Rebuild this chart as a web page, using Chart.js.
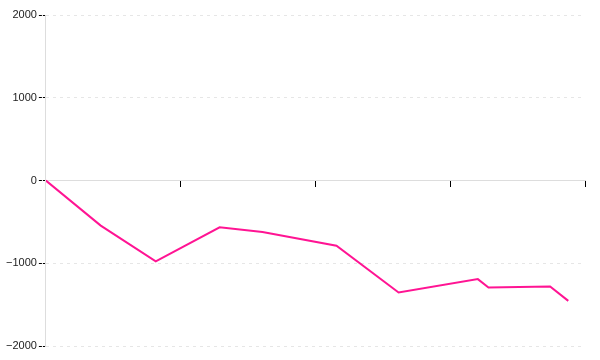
<!DOCTYPE html>
<html>
<head>
<meta charset="utf-8">
<script src="https://cdn.jsdelivr.net/npm/chart.js@4/dist/chart.umd.min.js"></script>
<style>
  html, body { margin: 0; padding: 0; background: #fff; }
  #wrap { width: 600px; height: 360px; }
</style>
</head>
<body>
<div id="wrap"><canvas id="c"></canvas></div>
<script>
const xValues = [0, 0.407, 0.815, 1.289, 1.607, 2.156, 2.617, 3.205, 3.284, 3.741, 3.876];
const yValues = [0, -545, -978, -566, -622, -788, -1354, -1192, -1293, -1281, -1455];
const yTicks = [-2000, -1000, 0, 1000, 2000];
const xTicks = [0, 1, 2, 3, 4];

const points = xValues.map((x, i) => ({ x: x, y: yValues[i] }));

new Chart(document.getElementById('c'), {
  type: 'line',
  data: {
    datasets: [{
      data: points,
      borderColor: '#ff1493',
      borderWidth: 2,
      pointRadius: 0,
      tension: 0,
      fill: false
    }]
  },
  options: {
    responsive: true,
    maintainAspectRatio: false,
    animation: false,
    layout: { padding: { top: 15, right: 15, bottom: 14, left: 4 } },
    plugins: { legend: { display: false }, tooltip: { enabled: false } },
    scales: {
      x: {
        type: 'linear',
        position: { y: 0 },
        min: xTicks[0],
        max: xTicks[xTicks.length - 1],
        afterBuildTicks: (s) => { s.ticks = xTicks.map(v => ({ value: v })); },
        ticks: { display: false },
        grid: {
          drawOnChartArea: false,
          drawTicks: true,
          tickLength: 6,
          tickColor: '#000',
          tickWidth: 1
        },
        border: { display: true, color: '#dddddd', width: 1 }
      },
      y: {
        min: yTicks[0],
        max: yTicks[yTicks.length - 1],
        afterBuildTicks: (s) => { s.ticks = yTicks.map(v => ({ value: v })); },
        ticks: {
          color: '#222',
          padding: 2,
          font: { family: 'Liberation Sans', size: 11 },
          callback: (v) => String(v).replace('-', '\u2212')
        },
        grid: {
          color: '#e6e6e6',
          lineWidth: 1,
          tickLength: 7,
          tickColor: '#000',
          tickBorderDash: [3, 1],
          tickWidth: 1
        },
        border: { display: true, color: '#dddddd', width: 1, dash: [3, 4] }
      }
    }
  }
});
</script>
</body>
</html>
